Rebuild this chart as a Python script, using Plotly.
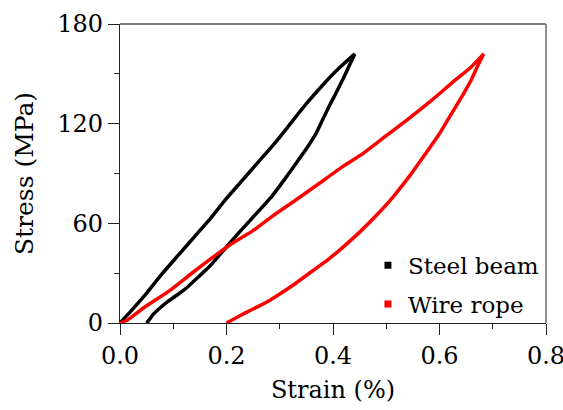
import plotly.graph_objects as go

# Steel beam: loading branch then unloading branch
steel_load_x = [0.0, 0.02, 0.05, 0.08, 0.11, 0.14, 0.17, 0.20, 0.23, 0.26, 0.29, 0.32, 0.35, 0.38, 0.41, 0.441]
steel_load_y = [0, 7, 18, 30, 41, 52, 63, 75, 86, 97, 108, 120, 132, 143, 153, 162]
steel_unload_x = [0.441, 0.432, 0.419, 0.405, 0.392, 0.380, 0.368, 0.348, 0.328, 0.308, 0.287, 0.265,
                  0.245, 0.225, 0.206, 0.187, 0.168, 0.148, 0.128, 0.108, 0.09, 0.075, 0.062, 0.055, 0.05]
steel_unload_y = [162, 156, 147, 138, 130, 122, 114, 104, 95, 86, 77, 69,
                  62, 55, 48, 41, 34, 28, 22, 17, 13, 9, 5, 2, 0]

# Wire rope: loading branch then unloading branch
rope_load_x = [0.0, 0.015, 0.044, 0.091, 0.139, 0.172, 0.206, 0.247, 0.287, 0.328, 0.368, 0.416,
               0.456, 0.497, 0.538, 0.585, 0.625, 0.659, 0.683]
rope_load_y = [0, 2, 9, 19, 31, 39, 47, 55, 64.5, 73.6, 82.6, 93.7,
               102, 112, 122, 134, 145, 154, 162]
rope_unload_x = [0.683, 0.672, 0.659, 0.645, 0.632, 0.615, 0.598, 0.576, 0.545, 0.513, 0.482, 0.451,
                 0.42, 0.39, 0.36, 0.328, 0.30, 0.275, 0.247, 0.22, 0.2]
rope_unload_y = [162, 155, 146, 138, 131, 122, 113, 103, 89, 76, 65, 55,
                 46, 38, 31, 23.5, 17.5, 12.5, 8, 3.5, 0]

series_names = ["Steel beam", "Wire rope"]
series_colors = ["#000000", "#ff0000"]

x_ticks = [0.0, 0.2, 0.4, 0.6, 0.8]
y_ticks = [0, 60, 120, 180]

FONT = "DejaVu Serif"

fig = go.Figure()
for xs, ys, col in [(steel_load_x, steel_load_y, series_colors[0]),
                    (steel_unload_x, steel_unload_y, series_colors[0]),
                    (rope_load_x, rope_load_y, series_colors[1]),
                    (rope_unload_x, rope_unload_y, series_colors[1])]:
    fig.add_trace(go.Scatter(x=xs, y=ys, mode="lines",
                             line=dict(color=col, width=3.5, shape="spline", smoothing=0.5),
                             showlegend=False, cliponaxis=False))
for name, col in zip(series_names, series_colors):
    fig.add_trace(go.Scatter(x=[None], y=[None], mode="markers", name=name, legendgroup=name,
                             marker=dict(symbol="square", size=7, color=col)))

fig.update_xaxes(range=[0, 0.8], tickvals=x_ticks, ticktext=[f"{v:.1f}" for v in x_ticks],
                 showline=True, linecolor="#222", linewidth=1.3, mirror=False,
                 ticks="outside", ticklen=11, tickwidth=1.3, tickcolor="#222",
                 showgrid=False, zeroline=False, automargin=False, ticklabeloverflow="allow",
                 tickfont=dict(family=FONT, size=24, color="black"),
                 minor=dict(tickvals=[0.1, 0.3, 0.5, 0.7], ticklen=5, tickwidth=1.3,
                            tickcolor="#222", ticks="outside", showgrid=False),
                 title=dict(text="Strain (%)", font=dict(family=FONT, size=24, color="black"), standoff=12))
fig.update_yaxes(range=[0, 180], tickvals=y_ticks,
                 showline=True, linecolor="#222", linewidth=1.3, mirror=False,
                 ticks="outside", ticklen=11, tickwidth=1.3, tickcolor="#222",
                 showgrid=False, zeroline=False, automargin=False,
                 tickfont=dict(family=FONT, size=24, color="black"),
                 minor=dict(tickvals=[30, 90, 150], ticklen=5, tickwidth=1.3,
                            tickcolor="#222", ticks="outside", showgrid=False),
                 title=dict(text="Stress (MPa)", font=dict(family=FONT, size=25, color="black"), standoff=16))

fig.add_shape(type="line", xref="paper", yref="paper", x0=0, x1=1, y0=1, y1=1,
              line=dict(color="#555", width=1.3))
fig.add_shape(type="line", xref="paper", yref="paper", x0=1, x1=1, y0=0, y1=1,
              line=dict(color="#555", width=1.3))

fig.update_layout(
    width=563, height=410,
    margin=dict(l=120, r=17, t=24, b=87),
    plot_bgcolor="white", paper_bgcolor="white",
    legend=dict(x=0.582, y=0.128, xanchor="left", yanchor="middle",
                font=dict(family=FONT, size=23, color="black"),
                bgcolor="rgba(0,0,0,0)", tracegroupgap=6),
)

fig.write_html("out.html")
